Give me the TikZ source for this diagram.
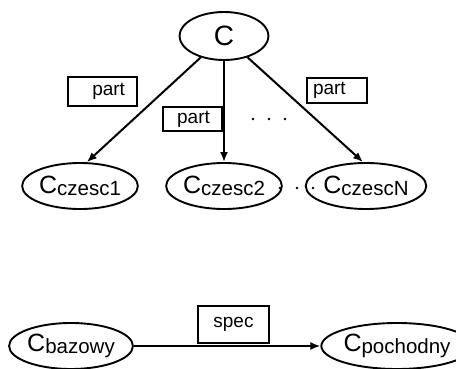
\documentclass[tikz,border=0pt]{standalone}
\usepackage{fontspec}
\setmainfont{Liberation Sans}
\usetikzlibrary{shapes.geometric,arrows.meta}
\newcommand{\cls}[2][25]{{\fontsize{#1}{#1}\selectfont C}\raisebox{-1.5pt}{\fontsize{20.5}{20.5}\selectfont #2}}
\tikzset{
  cnode/.style={ellipse,draw,line width=1.9pt,inner sep=0pt,minimum height=46pt},
  relbox/.style={draw,line width=1.5pt,inner ysep=0pt,font=\fontsize{19}{19}\selectfont},
  conn/.style={line width=2pt,-{Latex[length=10pt,width=8pt]}},
  dotmark/.style={circle,fill,inner sep=0pt,minimum size=2.6pt}
}
\begin{document}
\begin{tikzpicture}[x=1pt,y=-1pt]
\useasboundingbox (0,0) rectangle (456,369);
\node[cnode,minimum width=89pt,minimum height=48pt] (C) at (224,36) {\fontsize{28}{28}\selectfont C};
\node[cnode,minimum width=93pt] (c1) at (80,186) {\cls{czesc1}};
\node[cnode,minimum width=97pt] (c2) at (224,186) {\cls{czesc2}};
\node[cnode,minimum width=98pt] (cN) at (366,186) {\cls{czescN}};
\node[cnode,minimum width=123pt] (cb) at (71,346) {\cls{bazowy}};
\node[cnode,minimum width=121pt] (cp) at (397,346) {\cls{pochodny}};
\draw[conn] (C) -- (c1.74);
\draw[conn] (C) -- (c2);
\draw[conn] (C) -- (cN.97);
\draw[conn] (cb) -- (cp);
\node[relbox,text width=45pt,align=right,inner xsep=12pt,minimum height=29pt] (p1) at (102.5,91.5) {part};
\node[relbox,minimum width=59pt,minimum height=24pt] (p2) at (192.5,119) {\hspace{2pt}part};
\node[relbox,text width=48pt,align=left,inner xsep=6pt,minimum height=25pt] (p3) at (337,90.5) {part};
\node[relbox,minimum width=71pt,minimum height=37pt] (sp) at (233.5,324.5) {spec};
\node[dotmark] (d1) at (253,119) {};
\node[dotmark] (d2) at (269,119) {};
\node[dotmark] (d3) at (285,119) {};
\node[dotmark] (d4) at (280,188) {};
\node[dotmark] (d5) at (297,188) {};
\node[dotmark] (d6) at (313,188) {};
\end{tikzpicture}
\end{document}
